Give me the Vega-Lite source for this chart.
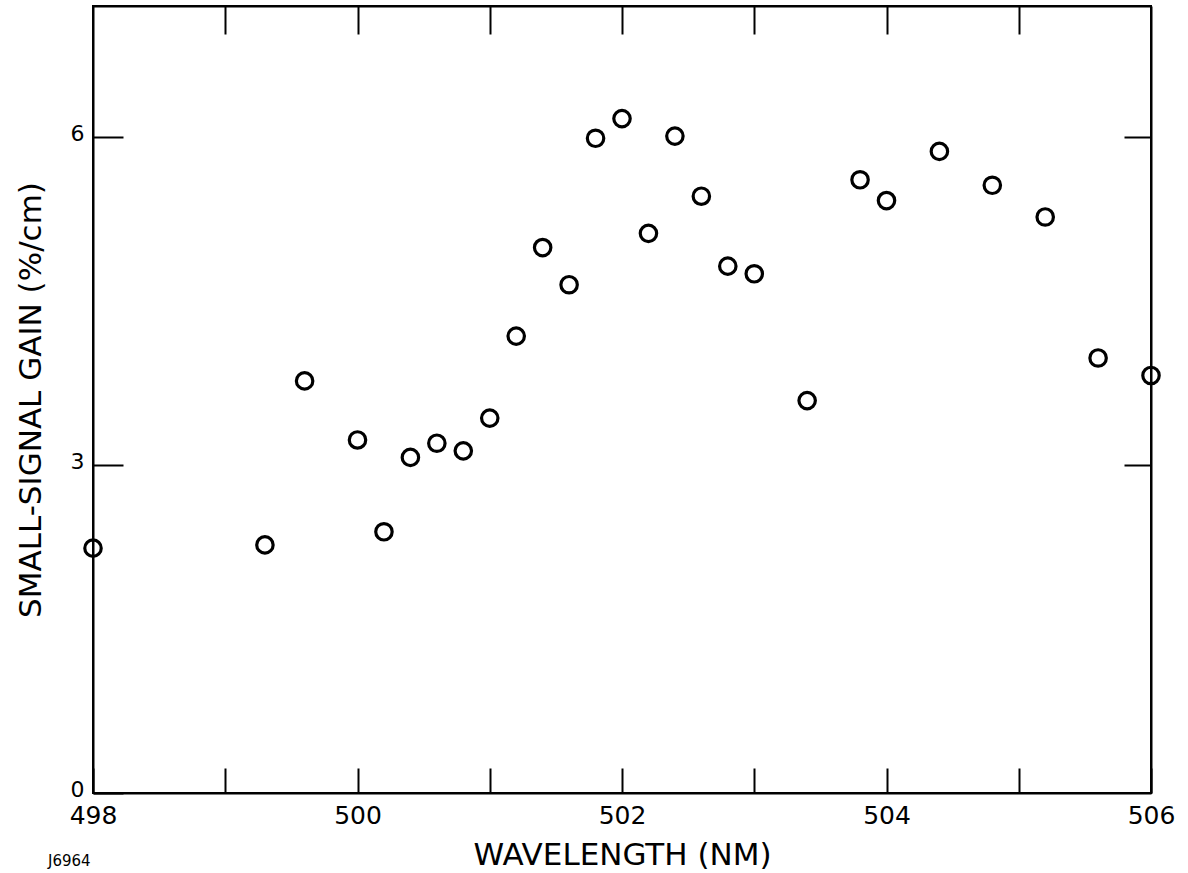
{
  "$schema": "https://vega.github.io/schema/vega-lite/v6.json",
  "autosize": "none",
  "width": 1058,
  "height": 787,
  "padding": {"left": 93, "top": 6, "right": 37, "bottom": 80},
  "background": "white",
  "config": {
    "view": {"stroke": "black", "strokeWidth": 2},
    "axis": {"grid": false, "domainColor": "black", "domainWidth": 2, "tickColor": "black", "tickWidth": 2, "labelColor": "black", "titleColor": "black", "labelFont": "DejaVu Sans", "titleFont": "DejaVu Sans", "labelFontSize": 25, "titleFontSize": 31, "titleFontWeight": "normal"}
  },
  "title": {"text": "J6964", "orient": "bottom", "anchor": "start", "frame": "group", "dx": -45, "offset": -16, "fontSize": 15, "font": "DejaVu Sans", "fontWeight": "normal", "color": "black"},
  "data": {
    "values": [
      {"wavelength": 498.0, "gain": 2.24},
      {"wavelength": 499.3, "gain": 2.27},
      {"wavelength": 499.6, "gain": 3.77},
      {"wavelength": 500.0, "gain": 3.23},
      {"wavelength": 500.2, "gain": 2.39},
      {"wavelength": 500.4, "gain": 3.07},
      {"wavelength": 500.6, "gain": 3.2},
      {"wavelength": 500.8, "gain": 3.13},
      {"wavelength": 501.0, "gain": 3.43},
      {"wavelength": 501.2, "gain": 4.18},
      {"wavelength": 501.4, "gain": 4.99},
      {"wavelength": 501.6, "gain": 4.65},
      {"wavelength": 501.8, "gain": 5.99},
      {"wavelength": 502.0, "gain": 6.17},
      {"wavelength": 502.2, "gain": 5.12},
      {"wavelength": 502.4, "gain": 6.01},
      {"wavelength": 502.6, "gain": 5.46},
      {"wavelength": 502.8, "gain": 4.82},
      {"wavelength": 503.0, "gain": 4.75},
      {"wavelength": 503.4, "gain": 3.59},
      {"wavelength": 503.8, "gain": 5.61},
      {"wavelength": 504.0, "gain": 5.42},
      {"wavelength": 504.4, "gain": 5.87},
      {"wavelength": 504.8, "gain": 5.56},
      {"wavelength": 505.2, "gain": 5.27},
      {"wavelength": 505.6, "gain": 3.98},
      {"wavelength": 506.0, "gain": 3.82}
    ]
  },
  "layer": [
    {
      "mark": {"type": "point", "shape": "circle", "filled": false, "stroke": "black", "strokeWidth": 3.2, "size": 270, "opacity": 1},
      "encoding": {
        "x": {"field": "wavelength", "type": "quantitative", "scale": {"domain": [498, 506], "nice": false, "zero": false},
          "axis": {"orient": "bottom", "title": "WAVELENGTH (NM)", "values": [498, 499, 500, 501, 502, 503, 504, 505, 506], "labelExpr": "datum.value % 2 == 0 ? datum.label : ''", "tickSize": -25, "labelPadding": 35, "titlePadding": 12, "labelFlush": false}},
        "y": {"field": "gain", "type": "quantitative", "scale": {"domain": [0, 7.2], "nice": false, "zero": false},
          "axis": {"orient": "left", "title": "SMALL-SIGNAL GAIN (%/cm)", "values": [0, 3, 6], "tickSize": -30, "labelPadding": 39, "labelOffset": -4, "labelFontSize": 22, "titlePadding": 23, "labelFlush": false}}
      }
    },
    {
      "mark": {"type": "point", "opacity": 0},
      "encoding": {
        "x": {"field": "wavelength", "type": "quantitative",
          "axis": {"orient": "top", "title": null, "labels": false, "values": [499, 500, 501, 502, 503, 504, 505], "tickSize": -28}},
        "y": {"field": "gain", "type": "quantitative",
          "axis": {"orient": "right", "title": null, "labels": false, "values": [3, 6], "tickSize": -27}}
      }
    }
  ],
  "resolve": {"axis": {"x": "independent", "y": "independent"}}
}
